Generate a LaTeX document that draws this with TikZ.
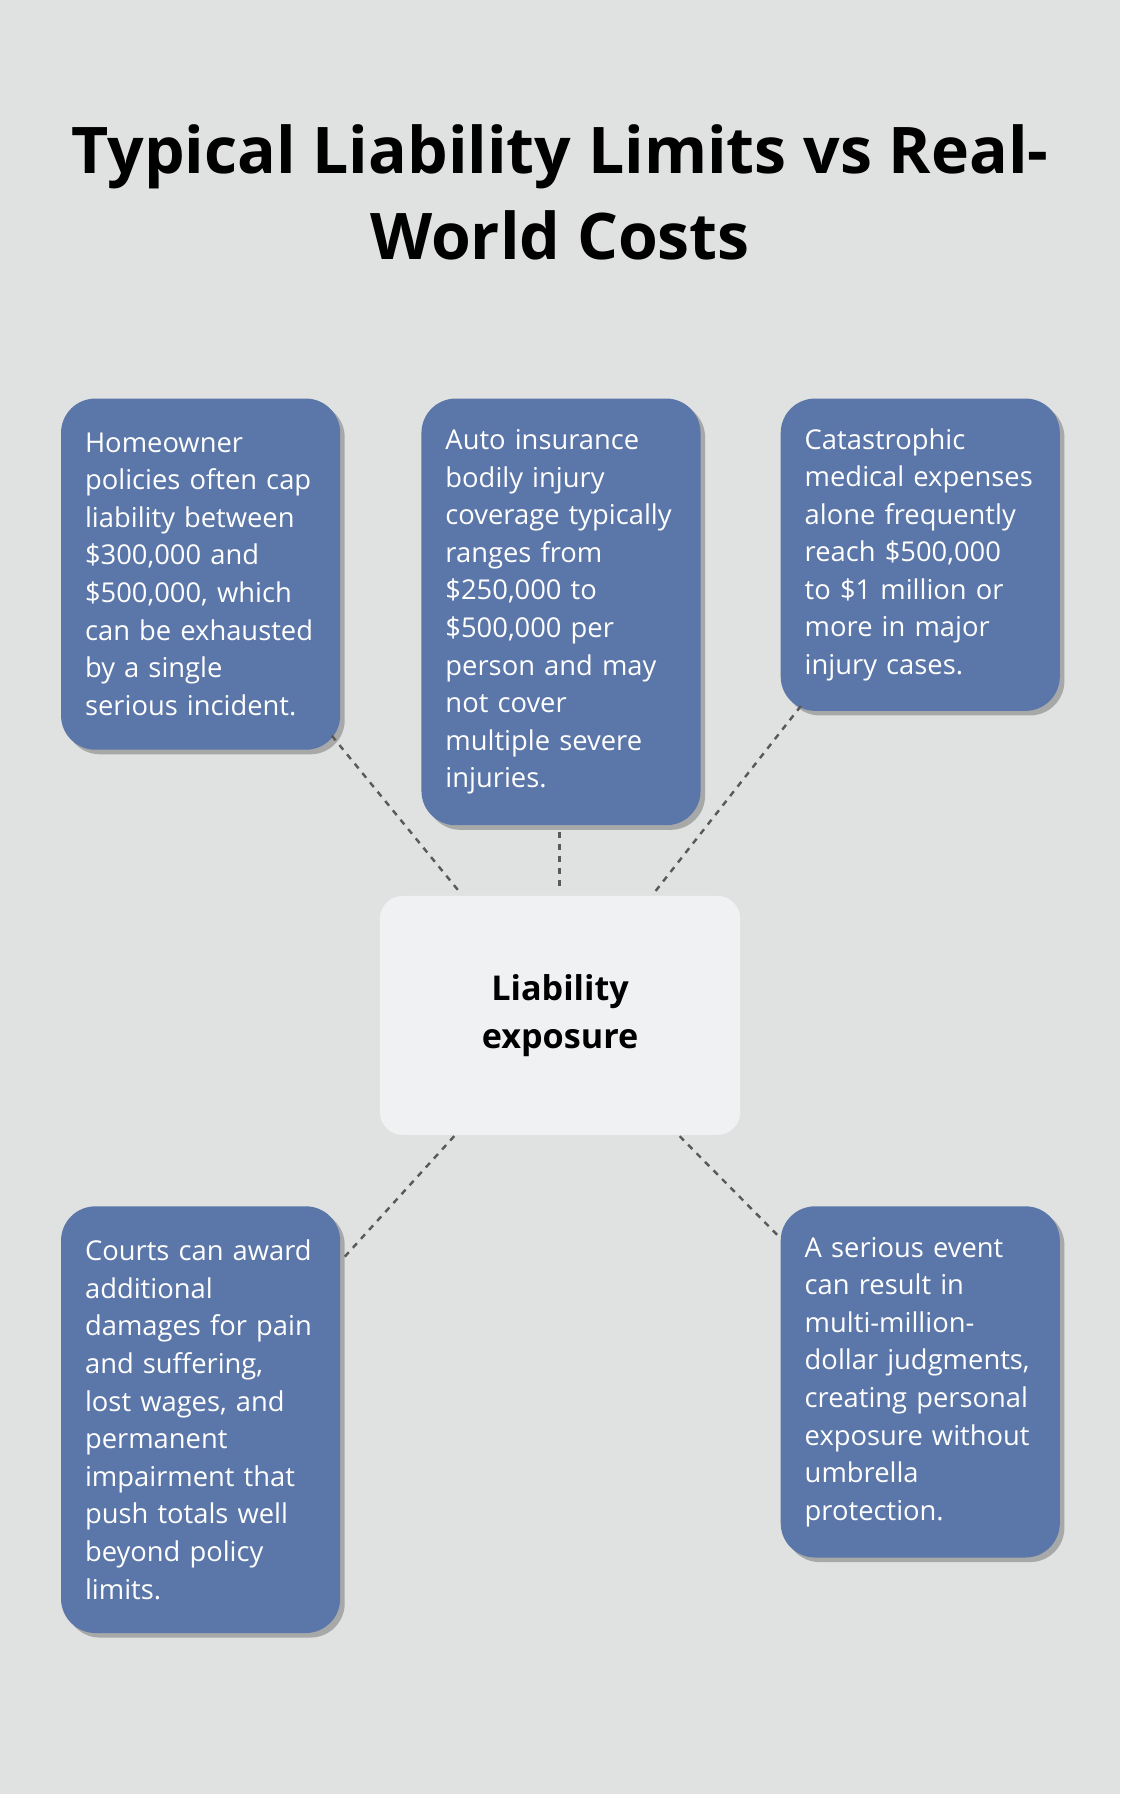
\documentclass[tikz,border=0pt]{standalone}
\usepackage{fontspec}
\setmainfont{Open Sans}
\usetikzlibrary{shadows}
\definecolor{bg}{HTML}{E0E2E1}
\definecolor{boxblue}{HTML}{5B76A8}
\definecolor{hub}{HTML}{F0F1F3}
\tikzset{card/.style={rounded corners=0.6cm,fill=boxblue,text=white,anchor=north west,
  minimum width=4.88cm,text width=4.04cm,inner sep=0.42cm,align=left,
  font=\fontsize{13.6}{18.7}\selectfont,
  drop shadow={shadow xshift=0.08cm,shadow yshift=-0.08cm,opacity=0.25,fill=black}}}
\tikzset{link/.style={dashed,dash pattern=on 3pt off 3pt,line width=1.2pt,draw=black!65}}
\begin{document}
\begin{tikzpicture}[x=0.02cm,y=-0.02cm]

\fill[bg] (0,0) rectangle (979,1568);
\useasboundingbox (0,0) rectangle (979,1568);

\node[font=\bfseries\fontsize{32}{42.5}\selectfont,align=center] (title) at (489.5,168)
  {Typical Liability Limits vs Real-\\World Costs};

\node[card,minimum height=6.14cm] (home) at (53,348)
  {Homeowner\\policies often cap\\liability between\\\$300,000 and\\\$500,000, which\\can be exhausted\\by a single\\serious incident.};
\node[card,minimum height=7.46cm] (auto) at (368,348)
  {Auto insurance\\bodily injury\\coverage typically\\ranges from\\\$250,000 to\\\$500,000 per\\person and may\\not cover\\multiple severe\\injuries.};
\node[card,minimum height=5.46cm] (medical) at (682,348)
  {Catastrophic\\medical expenses\\alone frequently\\reach \$500,000\\to \$1 million or\\more in major\\injury cases.};
\node[card,minimum height=7.46cm] (courts) at (53,1054)
  {Courts can award\\additional\\damages for pain\\and suffering,\\lost wages, and\\permanent\\impairment that\\push totals well\\beyond policy\\limits.};
\node[card,minimum height=6.14cm] (event) at (682,1054)
  {A serious event\\can result in\\multi-million-\\dollar judgments,\\creating personal\\exposure without\\umbrella\\protection.};

\node[rounded corners=0.4cm,fill=hub,minimum width=6.3cm,minimum height=4.18cm,
  font=\bfseries\fontsize{17}{24}\selectfont,align=center] (exposure) at (489.5,887.5)
  {Liability\\exposure};

% dashed links
\coordinate (a1) at (290,643); \coordinate (a2) at (402,780);
\coordinate (b1) at (489,727); \coordinate (b2) at (489,777);
\coordinate (c1) at (700,617); \coordinate (c2) at (572,780);
\coordinate (d1) at (397,993); \coordinate (d2) at (298,1102);
\coordinate (e1) at (594,993); \coordinate (e2) at (682,1082);
\draw[link] (a1) -- (a2);
\draw[link] (b1) -- (b2);
\draw[link] (c1) -- (c2);
\draw[link] (d1) -- (d2);
\draw[link] (e1) -- (e2);

\end{tikzpicture}
\end{document}
